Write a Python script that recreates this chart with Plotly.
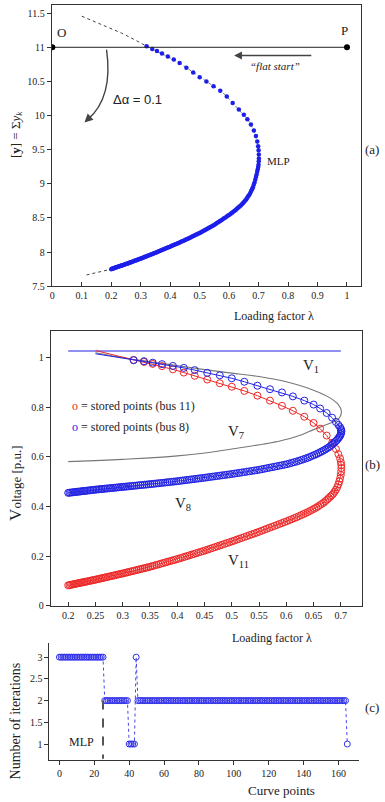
import plotly.graph_objects as go

W, H = 385, 802

# ---------------- data ----------------
# loading factor lambda of the 166 stored curve points (0..25 upper branch, 25 = MLP)
lam = [0.320, 0.339, 0.355, 0.372, 0.392, 0.412, 0.432, 0.455, 0.478, 0.500,
       0.523, 0.547, 0.570, 0.592, 0.612, 0.633, 0.650, 0.662, 0.674, 0.684,
       0.691, 0.6955, 0.6985, 0.7000, 0.7008, 0.7010,
       0.7006, 0.6998, 0.6986, 0.6971, 0.6953, 0.6933, 0.6911, 0.6887, 0.6862, 0.6836,
       0.6808, 0.6779, 0.6749, 0.6718, 0.6686, 0.6653, 0.6619, 0.6584, 0.6548, 0.6511,
       0.6473, 0.6434, 0.6394, 0.6354, 0.6313, 0.6271, 0.6229, 0.6186, 0.6143, 0.6099,
       0.6055, 0.6010, 0.5965, 0.5920, 0.5874,
       0.5828, 0.5782, 0.5736, 0.5690, 0.5644, 0.5598, 0.5552, 0.5506, 0.5460, 0.5414,
       0.5368, 0.5322, 0.5276, 0.5230, 0.5184, 0.5138, 0.5093, 0.5048, 0.5003, 0.4958,
       0.4913, 0.4868, 0.4823, 0.4779, 0.4735, 0.4691, 0.4647, 0.4603, 0.4560, 0.4517,
       0.4474, 0.4431, 0.4389, 0.4347, 0.4305, 0.4263, 0.4222, 0.4181, 0.4140, 0.4099,
       0.4059, 0.4019, 0.3979, 0.3939, 0.3899, 0.3859, 0.3819, 0.3779, 0.3739, 0.3699,
       0.3659, 0.3619, 0.3579,
       0.3543, 0.3507, 0.3471, 0.3435, 0.3399, 0.3363, 0.3327, 0.3291, 0.3255, 0.3219,
       0.3183, 0.3147, 0.3111,
       0.3079, 0.3047, 0.3015, 0.2983, 0.2951, 0.2919, 0.2887, 0.2855, 0.2823, 0.2791,
       0.2759, 0.2727, 0.2695,
       0.2667, 0.2638, 0.2610, 0.2581, 0.2553, 0.2524, 0.2496, 0.2467, 0.2439, 0.2410,
       0.2382, 0.2353, 0.2325,
       0.2300, 0.2275, 0.2250, 0.2225, 0.2200, 0.2175, 0.2150, 0.2125, 0.2100, 0.2075,
       0.2050, 0.2025, 0.2000]

# [y] = sum y_k for each stored point (panel a)
sum_y = [11.015, 10.975, 10.945, 10.91, 10.865, 10.82, 10.77, 10.70, 10.63, 10.56,
         10.50, 10.43, 10.365, 10.28, 10.185, 10.09, 10.01, 9.945, 9.87, 9.78,
         9.70, 9.62, 9.55, 9.49, 9.43, 9.37,
         9.33, 9.28, 9.245, 9.212, 9.176, 9.135, 9.098, 9.058, 9.019, 8.986,
         8.950, 8.921, 8.894, 8.866, 8.841, 8.820, 8.798, 8.775, 8.754, 8.737,
         8.719, 8.701, 8.683, 8.668, 8.652, 8.637, 8.621, 8.605, 8.591, 8.577,
         8.563, 8.548, 8.535, 8.522, 8.508,
         8.495, 8.482, 8.468, 8.455, 8.442, 8.428, 8.415, 8.402, 8.390, 8.379,
         8.368, 8.357, 8.346, 8.335, 8.324, 8.313, 8.302, 8.292, 8.281, 8.271,
         8.262, 8.252, 8.243, 8.234, 8.224, 8.215, 8.206, 8.197, 8.188, 8.179,
         8.170, 8.162, 8.154, 8.146, 8.138, 8.130, 8.122, 8.114, 8.107, 8.099,
         8.091, 8.084, 8.076, 8.069, 8.062, 8.055, 8.047, 8.040, 8.033, 8.026,
         8.019, 8.011, 8.004,
         7.998, 7.991, 7.985, 7.979, 7.973, 7.967, 7.961, 7.954, 7.948, 7.942,
         7.936, 7.930, 7.924,
         7.918, 7.913, 7.907, 7.902, 7.897, 7.892, 7.887, 7.882, 7.877, 7.872,
         7.866, 7.861, 7.856,
         7.852, 7.847, 7.843, 7.838, 7.833, 7.829, 7.824, 7.820, 7.816, 7.811,
         7.807, 7.803, 7.799,
         7.795, 7.791, 7.788, 7.784, 7.780, 7.776, 7.773, 7.769, 7.765, 7.761,
         7.758, 7.754, 7.750]

# bus 8 voltage (panel b, blue)
v8 = [0.990, 0.986, 0.980, 0.974, 0.967, 0.959, 0.950, 0.939, 0.929, 0.917,
      0.903, 0.887, 0.873, 0.860, 0.844, 0.827, 0.811, 0.795, 0.777, 0.758,
      0.741, 0.729, 0.720, 0.713, 0.708, 0.703,
      0.697, 0.691, 0.685, 0.680, 0.675, 0.669, 0.664, 0.659, 0.6535, 0.6487,
      0.6435, 0.6390, 0.6348, 0.6305, 0.6262, 0.6226, 0.6187, 0.6147, 0.6109, 0.6074,
      0.6039, 0.6002, 0.5966, 0.5935, 0.5905, 0.5873, 0.5842, 0.5812, 0.5786, 0.5759,
      0.5733, 0.5706, 0.5685, 0.5665, 0.5645,
      0.5624, 0.5604, 0.5584, 0.5564, 0.5543, 0.5523, 0.5503, 0.5483, 0.5466, 0.5451,
      0.5435, 0.5419, 0.5404, 0.5388, 0.5373, 0.5357, 0.5342, 0.5326, 0.5311, 0.5297,
      0.5284, 0.5270, 0.5257, 0.5244, 0.5231, 0.5217, 0.5204, 0.5191, 0.5178, 0.5165,
      0.5153, 0.5141, 0.5129, 0.5117, 0.5105, 0.5094, 0.5082, 0.5071, 0.5059, 0.5048,
      0.5037, 0.5025, 0.5015, 0.5005, 0.4996, 0.4986, 0.4977, 0.4967, 0.4957, 0.4948,
      0.4938, 0.4929, 0.4919,
      0.4910, 0.4902, 0.4894, 0.4886, 0.4878, 0.4870, 0.4862, 0.4854, 0.4846, 0.4838,
      0.4830, 0.4822, 0.4814,
      0.4807, 0.4800, 0.4793, 0.4786, 0.4779, 0.4772, 0.4765, 0.4758, 0.4751, 0.4744,
      0.4737, 0.4730, 0.4723,
      0.4717, 0.4710, 0.4704, 0.4698, 0.4692, 0.4685, 0.4679, 0.4671, 0.4664, 0.4657,
      0.4649, 0.4642, 0.4634,
      0.4628, 0.4622, 0.4615, 0.4609, 0.4602, 0.4596, 0.4589, 0.4583, 0.4576, 0.4570,
      0.4563, 0.4557, 0.4550]

# bus 11 voltage (panel b, red)
v11 = [0.991, 0.983, 0.975, 0.966, 0.953, 0.940, 0.927, 0.912, 0.897, 0.883,
       0.866, 0.847, 0.827, 0.806, 0.786, 0.762, 0.737, 0.714, 0.686, 0.657,
       0.632, 0.611, 0.594, 0.579, 0.567, 0.555,
       0.541, 0.527, 0.513, 0.501, 0.489, 0.478, 0.468, 0.460, 0.452, 0.446,
       0.440, 0.434, 0.428, 0.422, 0.4155, 0.4105, 0.406, 0.4005, 0.3956, 0.391,
       0.3865, 0.382, 0.3774, 0.3734, 0.3693, 0.3651, 0.3609, 0.3567, 0.3529, 0.3489,
       0.3450, 0.3409, 0.3371, 0.3333, 0.3294,
       0.3256, 0.3217, 0.3178, 0.3140, 0.3101, 0.3062, 0.3024, 0.2985, 0.2949, 0.2913,
       0.2877, 0.2841, 0.2805, 0.2769, 0.2734, 0.2698, 0.2663, 0.2627, 0.2592, 0.2559,
       0.2526, 0.2492, 0.2459, 0.2427, 0.2394, 0.2361, 0.2329, 0.2296, 0.2264, 0.2233,
       0.2202, 0.2173, 0.2145, 0.2116, 0.2087, 0.2059, 0.2031, 0.2003, 0.1975, 0.1947,
       0.1920, 0.1893, 0.1867, 0.1842, 0.1817, 0.1793, 0.1768, 0.1743, 0.1718, 0.1694,
       0.1669, 0.1644, 0.1619,
       0.1597, 0.1574, 0.1554, 0.1535, 0.1515, 0.1496, 0.1477, 0.1457, 0.1438, 0.1418,
       0.1399, 0.1379, 0.1360,
       0.1343, 0.1325, 0.1308, 0.1292, 0.1276, 0.1260, 0.1244, 0.1228, 0.1212, 0.1196,
       0.1180, 0.1164, 0.1148,
       0.1134, 0.1119, 0.1105, 0.1091, 0.1077, 0.1062, 0.1048, 0.1035, 0.1022, 0.1009,
       0.0996, 0.0982, 0.0970,
       0.0958, 0.0947, 0.0935, 0.0924, 0.0912, 0.0901, 0.0889, 0.0878, 0.0866, 0.0855,
       0.0843, 0.0832, 0.0820]

# number of iterations per curve point (panel c)
iterations = [3, 3, 3, 3, 3, 3, 3, 3, 3, 3, 3, 3, 3, 3, 3, 3, 3, 3, 3, 3,
              3, 3, 3, 3, 3, 3, 2, 2, 2, 2, 2, 2, 2, 2, 2, 2, 2, 2, 2, 2,
              1, 1, 1, 1, 3, 2, 2, 2, 2, 2, 2, 2, 2, 2, 2, 2, 2, 2, 2, 2,
              2, 2, 2, 2, 2, 2, 2, 2, 2, 2, 2, 2, 2, 2, 2, 2, 2, 2, 2, 2,
              2, 2, 2, 2, 2, 2, 2, 2, 2, 2, 2, 2, 2, 2, 2, 2, 2, 2, 2, 2,
              2, 2, 2, 2, 2, 2, 2, 2, 2, 2, 2, 2, 2, 2, 2, 2, 2, 2, 2, 2,
              2, 2, 2, 2, 2, 2, 2, 2, 2, 2, 2, 2, 2, 2, 2, 2, 2, 2, 2, 2,
              2, 2, 2, 2, 2, 2, 2, 2, 2, 2, 2, 2, 2, 2, 2, 2, 2, 2, 2, 2,
              2, 2, 2, 2, 2, 1]
curve_points = list(range(len(iterations)))

# panel (a) extra lines
ext_up_lam = [0.10, 0.17, 0.234, 0.28, 0.32]
ext_up_y = [11.455, 11.33, 11.21, 11.11, 11.015]
ext_lo_lam = [0.116, 0.158, 0.200]
ext_lo_y = [7.665, 7.705, 7.750]
op_lam = [0.0, 1.0]
op_y = [11.0, 11.0]

# panel (b) extra curves
v1_lam = [0.2, 0.7]
v1 = [1.027, 1.027]
v7_lam = [0.25, 0.30, 0.35, 0.40, 0.45, 0.50, 0.55, 0.60, 0.65, 0.68, 0.695, 0.701,
          0.698, 0.690, 0.674, 0.65, 0.62, 0.59, 0.559, 0.50, 0.443, 0.40, 0.35, 0.30, 0.25, 0.20]
v7 = [1.020, 1.000, 0.984, 0.968, 0.952, 0.938, 0.924, 0.903, 0.869, 0.838, 0.812, 0.785,
      0.760, 0.745, 0.731, 0.710, 0.683, 0.665, 0.652, 0.632, 0.614, 0.604, 0.596, 0.590, 0.585, 0.581]
pre_lam = [0.25, 0.29]
v11_pre = [1.029, 1.008]
v8_pre = [1.016, 1.002]

# ---------------- style ----------------
SERIF = "Liberation Serif, Times New Roman, serif"
SANS = "Liberation Sans, Arial, sans-serif"
RED = "rgb(238,40,40)"
BLUE = "rgb(35,35,228)"
DOTBLUE = "rgb(30,30,235)"
INK = "#222"


def py(p):
    return 1 - p / H


def px(p):
    return p / W


fig = go.Figure()

# ----- panel (a) -----
fig.add_trace(go.Scatter(x=ext_up_lam, y=ext_up_y, mode="lines",
                         line=dict(color="#444", width=1, dash="dot"), xaxis="x", yaxis="y"))
fig.add_trace(go.Scatter(x=ext_lo_lam, y=ext_lo_y, mode="lines",
                         line=dict(color="#444", width=1, dash="dot"), xaxis="x", yaxis="y"))
fig.add_trace(go.Scatter(x=lam, y=sum_y, mode="lines",
                         line=dict(color="#555", width=0.8, dash="dot"), xaxis="x", yaxis="y"))
fig.add_trace(go.Scatter(x=lam, y=sum_y, mode="markers",
                         marker=dict(color=DOTBLUE, size=4.5), xaxis="x", yaxis="y"))
fig.add_trace(go.Scatter(x=op_lam, y=op_y, mode="lines+markers",
                         line=dict(color="#222", width=1),
                         marker=dict(color="black", size=6), xaxis="x", yaxis="y"))

# ----- panel (b) -----
fig.add_trace(go.Scatter(x=v1_lam, y=v1, mode="lines",
                         line=dict(color=BLUE, width=1.2), xaxis="x2", yaxis="y2"))
fig.add_trace(go.Scatter(x=v7_lam, y=v7, mode="lines", line_shape="spline",
                         line=dict(color="#777", width=1.1), xaxis="x2", yaxis="y2"))
fig.add_trace(go.Scatter(x=pre_lam + lam, y=v11_pre + v11, mode="lines",
                         line=dict(color=RED, width=1), xaxis="x2", yaxis="y2"))
fig.add_trace(go.Scatter(x=lam, y=v11, mode="markers",
                         marker=dict(symbol="circle-open", color=RED, size=7, line=dict(width=1)),
                         xaxis="x2", yaxis="y2"))
fig.add_trace(go.Scatter(x=pre_lam + lam, y=v8_pre + v8, mode="lines",
                         line=dict(color=BLUE, width=1), xaxis="x2", yaxis="y2"))
fig.add_trace(go.Scatter(x=lam, y=v8, mode="markers",
                         marker=dict(symbol="circle-open", color=BLUE, size=7, line=dict(width=1)),
                         xaxis="x2", yaxis="y2"))

# ----- panel (c) -----
fig.add_trace(go.Scatter(x=curve_points, y=iterations, mode="lines+markers",
                         line=dict(color="rgb(70,70,235)", width=1, dash="dot"),
                         marker=dict(symbol="circle-open", color="rgb(50,50,235)", size=6,
                                     line=dict(width=1)),
                         xaxis="x3", yaxis="y3"))

# ---------------- axes ----------------
tickfont = dict(family=SERIF, size=10, color=INK)
common = dict(showgrid=False, zeroline=False, showline=True, linecolor="#333", linewidth=1,
              tickfont=tickfont, ticklen=4, tickcolor="#333", tickwidth=1)
overlay = dict(showgrid=False, zeroline=False, showline=False, showticklabels=False,
               ticks="inside", ticklen=4, tickcolor="#333", tickwidth=1)

xa_range = [-0.002, 1.048]
ya_range = [7.5, 11.62]
xb_range = [0.168, 0.739]
yb_range = [-0.002, 1.108]

layout = dict(
    width=W, height=H, margin=dict(l=0, r=0, t=0, b=0),
    paper_bgcolor="white", plot_bgcolor="white", showlegend=False,
    xaxis=dict(domain=[px(50), px(361)], range=xa_range, anchor="y", tickmode="linear",
               tick0=0, dtick=0.1, ticks="inside", mirror=True, **common),
    yaxis=dict(domain=[py(288), py(5)], range=ya_range, anchor="x", tickmode="linear",
               tick0=7.5, dtick=0.5, ticks="outside", mirror=True, **common),
    xaxis4=dict(overlaying="x", anchor="y", side="top", range=xa_range, tickmode="linear",
                tick0=0, dtick=0.1, **overlay),
    yaxis4=dict(overlaying="y", anchor="x", side="right", range=ya_range, tickmode="linear",
                tick0=7.5, dtick=0.5, **overlay),
    xaxis2=dict(domain=[px(49), px(362)], range=xb_range, anchor="y2", tickmode="linear",
                tick0=0.2, dtick=0.05, ticks="inside", mirror=True, **common),
    yaxis2=dict(domain=[py(610), py(333)], range=yb_range, anchor="x2", tickmode="linear",
                tick0=0, dtick=0.2, ticks="outside", mirror=True, **common),
    xaxis5=dict(overlaying="x2", anchor="y2", side="top", range=xb_range, tickmode="linear",
                tick0=0.2, dtick=0.05, **overlay),
    yaxis5=dict(overlaying="y2", anchor="x2", side="right", range=yb_range, tickmode="linear",
                tick0=0, dtick=0.2, **overlay),
    xaxis3=dict(domain=[px(47.7), px(359)], range=[-5.7, 171.8], anchor="y3", tickmode="linear",
                tick0=0, dtick=20, ticks="outside", **common),
    yaxis3=dict(domain=[py(765), py(647)], range=[0.627, 3.327], anchor="x3", tickmode="linear",
                tick0=1, dtick=0.5, ticks="outside", **common),
)
fig.update_layout(**layout)

# ---------------- shapes ----------------
fig.add_shape(type="path", xref="x", yref="y",
              path="M 0.184,10.965 C 0.196,10.6 0.19,10.2 0.12,9.94",
              line=dict(color="#444", width=1.4))
fig.add_shape(type="line", xref="x3", yref="y3", x0=25, x1=25, y0=2, y1=0.66,
              line=dict(color="#555", width=2, dash="dash"))

# ---------------- annotations ----------------
ann = []


def add(text, x, y, xref, yref, size=12, family=SERIF, **kw):
    d = dict(text=text, x=x, y=y, xref=xref, yref=yref, showarrow=False,
             xanchor="center", yanchor="middle",
             font=dict(family=family, size=size, color=INK))
    d.update(kw)
    ann.append(d)


# panel (a)
add("O", 0.032, 11.22, "x", "y", size=13)
add("P", 0.993, 11.25, "x", "y", size=13)
add("MLP", 0.767, 9.34, "x", "y", size=11)
add("Δα = 0.1", 0.29, 10.24, "x", "y", size=13, family=SANS)
add("<i>“flat start”</i>", 0.755, 10.72, "x", "y", size=11)
ann.append(dict(x=0.617, y=10.88, ax=0.884, ay=10.88, xref="x", yref="y", axref="x", ayref="y",
                text="", showarrow=True, arrowhead=2, arrowsize=1.2, arrowwidth=1.3,
                arrowcolor="#444"))
ann.append(dict(x=0.109, y=9.9, ax=0.125, ay=9.965, xref="x", yref="y", axref="x", ayref="y",
                text="", showarrow=True, arrowhead=2, arrowsize=1.2, arrowwidth=1.4,
                arrowcolor="#444"))
add("(a)", px(372), py(150), "paper", "paper", size=13)
add("Loading factor λ", px(273), py(318), "paper", "paper", size=12)
add("[<b>y</b>] = Σ<i>y</i><sub><i>k</i></sub>", px(14), py(135), "paper", "paper", size=13,
    textangle=-90)

# panel (b)
add("V<sub>1</sub>", 0.645, 0.965, "x2", "y2", size=15)
add("V<sub>7</sub>", 0.508, 0.70, "x2", "y2", size=15)
add("V<sub>8</sub>", 0.41, 0.41, "x2", "y2", size=15)
add("V<sub>11</sub>", 0.512, 0.18, "x2", "y2", size=15)
add("<span style='color:rgb(238,40,40)'>o</span> = stored points (bus 11)", 0.203, 0.807,
    "x2", "y2", size=12, xanchor="left")
add("<span style='color:rgb(35,35,228)'>o</span> = stored points (bus 8)", 0.203, 0.72,
    "x2", "y2", size=12, xanchor="left")
add("(b)", px(372), py(467), "paper", "paper", size=13)
add("Loading factor λ", px(271), py(642), "paper", "paper", size=12)
add("<span style='font-size:17px'>V</span>oltage [p.u.]", px(14), py(486), "paper", "paper",
    size=13, textangle=-90)

# panel (c)
add("MLP", 12.7, 1.05, "x3", "y3", size=12)
add("(c)", px(372), py(712), "paper", "paper", size=13)
add("Curve points", px(281), py(795), "paper", "paper", size=13)
add("Number of iterations", px(14), py(725), "paper", "paper", size=14, textangle=-90)

fig.update_layout(annotations=ann)

fig.write_html("out.html")
